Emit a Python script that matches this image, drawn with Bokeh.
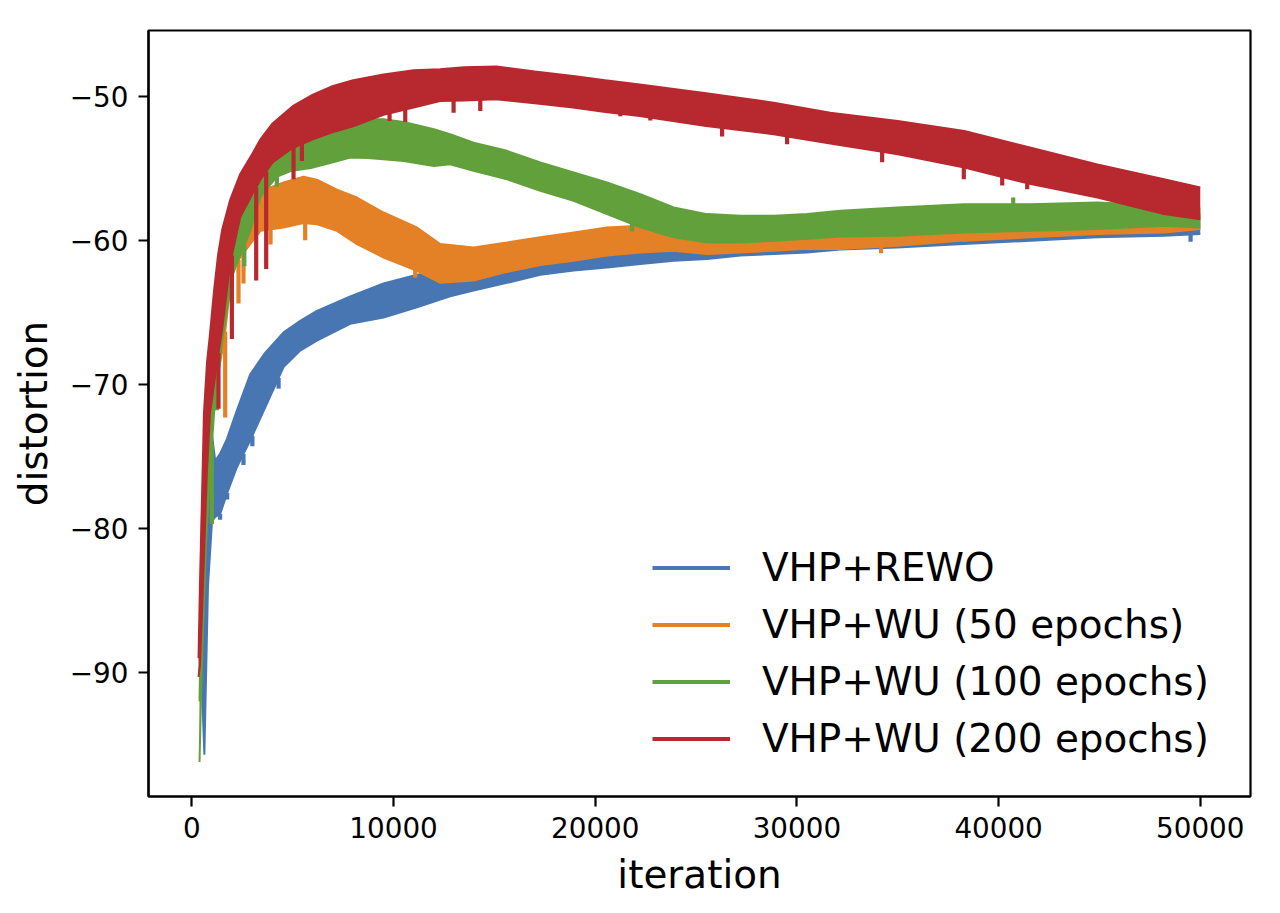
import numpy as np
from bokeh.plotting import figure
from bokeh.models import Range1d, FixedTicker, Legend, LegendItem
from bokeh.embed import file_html
from bokeh.resources import INLINE

# ---------------- data ----------------
series_names = ["VHP+REWO", "VHP+WU (50 epochs)", "VHP+WU (100 epochs)", "VHP+WU (200 epochs)"]
series_colors = ["#4876b2", "#e48026", "#62a03b", "#b7292f"]

# Each series is a very noisy curve: band = lower / upper envelope of the noise,
# plus a few isolated downward spikes.
rewo_x = [400, 500, 620, 800, 1000, 1156, 1404, 1736, 2232, 2892, 3640, 4546, 5372, 6200,
          7852, 9505, 11160, 12812, 13970, 15625, 17277, 18930, 20585, 22237, 23890, 25546,
          27197, 28850, 30505, 32157, 34970, 38275, 41582, 44891, 48194, 50000]
rewo_lo = [-89, -91, -95.7, -84, -79.5, -79.2, -79.0, -77.6, -75.75, -73.9, -71.6, -68.8, -67.66, -66.97,
           -65.8, -65.36, -64.66, -63.9, -63.5, -62.96, -62.4, -62.1, -61.9, -61.65, -61.42, -61.3,
           -61.07, -60.96, -60.85, -60.65, -60.5, -60.27, -60.03, -59.8, -59.7, -59.57]
rewo_hi = [-87, -84, -80, -74, -73.5, -75.3, -74.8, -73.8, -71.8, -69.3, -67.8, -66.4, -65.6, -64.9,
           -63.9, -63.0, -62.4, -62.1, -61.9, -61.4, -60.9, -60.6, -60.4, -60.2, -60.0, -59.8,
           -59.6, -59.5, -59.4, -59.2, -59.1, -58.9, -58.7, -58.5, -58.4, -58.3]
rewo_spike_x = [1400, 1750, 2560, 3000, 4300, 49519]
rewo_spike_y = [-79.4, -78.0, -75.6, -74.3, -70.3, -60.1]

wu50_x = [400, 500, 700, 900, 1200, 1600, 2000, 2500, 3400, 4546, 5536, 6200, 7192, 8185, 9505,
          11160, 12316, 13970, 15625, 17277, 18930, 20585, 22237, 23890, 25546, 27197, 28850,
          30505, 32157, 34970, 38275, 41582, 44891, 48194, 50000]
wu50_lo = [-90, -86, -79, -74, -70, -67, -62, -61, -59.35, -59.12, -58.8, -58.9, -59.35, -60.27, -61.2,
           -62.12, -62.96, -62.8, -62.2, -61.73, -61.42, -61.07, -60.85, -60.73, -60.96, -60.85, -60.73,
           -60.6, -60.61, -60.39, -60.03, -59.8, -59.57, -59.46, -59.23]
wu50_hi = [-86, -79, -71, -67, -63, -60, -58, -57.3, -56.6, -56.0, -55.6, -55.8, -56.5, -57.04, -58.08,
           -59.12, -60.27, -60.5, -60.16, -59.8, -59.46, -59.12, -59.0, -59.3, -59.4, -59.3, -59.2,
           -59.1, -59.0, -58.9, -58.7, -58.5, -58.3, -58.2, -58.1]
wu50_spike_x = [1652, 2313, 2560, 3900, 5620, 11076, 34172]
wu50_spike_y = [-72.3, -64.4, -63.0, -60.3, -60.0, -62.6, -60.9]

wu100_x = [380, 450, 550, 700, 900, 1100, 1500, 2000, 2400, 2900, 3400, 4200, 4900, 5900, 7000,
           7850, 8700, 9500, 10500, 12000, 12800, 13970, 15625, 17277, 18930, 20585, 22237, 23890,
           25546, 27197, 28850, 30505, 32157, 34970, 38275, 41582, 44891, 48194, 50000]
wu100_lo = [-96.2, -92, -87, -81, -76, -72, -67, -62.5, -61.0, -59.35, -57.0, -55.6, -55.2, -55.0, -54.6,
            -54.27, -54.3, -54.38, -54.5, -54.85, -54.73, -55.19, -55.77, -56.57, -57.26, -58.19, -59.1, -59.8,
            -60.16, -60.16, -60.03, -59.9, -59.75, -59.7, -59.46, -59.35, -59.23, -59.0, -59.12]
wu100_hi = [-92, -86, -79, -72, -68, -65, -60.5, -57.5, -56, -55, -54.5, -53.5, -53.0, -52.5, -52.1,
            -51.8, -51.6, -51.6, -51.8, -52.3, -52.65, -53.23, -53.8, -54.61, -55.3, -56.0, -56.8, -57.73,
            -58.19, -58.3, -58.3, -58.19, -57.95, -57.73, -57.5, -57.5, -57.39, -57.6, -57.8]
wu100_spike_x = [992, 1240, 2600, 4216, 21826, 40724]
wu100_spike_y = [-79.7, -71.8, -61.8, -56.3, -59.4, -57.04]

wu200_x = [330, 400, 500, 600, 750, 900, 1100, 1300, 1500, 1900, 2400, 3000, 3400, 4000, 5000, 6000,
           7000, 8000, 9500, 11000, 12300, 13500, 15100, 17000, 18900, 20500, 22200, 25500, 28850,
           31650, 35000, 38300, 41600, 44900, 48200, 50000]
wu200_lo = [-90.3, -89.5, -86, -82, -76, -72, -70, -68, -66.2, -61.6, -58.4, -56.8, -55.8, -54.6, -53.6, -53.0,
            -52.5, -52.1, -51.3, -50.8, -50.34, -50.3, -50.22, -50.5, -50.8, -51.1, -51.38, -52.07, -52.65,
            -53.3, -54.03, -54.96, -56.11, -57.04, -58.19, -58.54]
wu200_hi = [-89, -84, -78, -72, -68.5, -66.5, -63.5, -61, -59.3, -57.2, -55.4, -54.0, -53.0, -51.9, -50.7, -49.9,
            -49.3, -48.9, -48.5, -48.2, -48.14, -48.0, -47.95, -48.3, -48.6, -48.9, -49.2, -49.8, -50.46,
            -51.15, -51.73, -52.42, -53.58, -54.74, -55.77, -56.35]
wu200_spike_x = [1320, 1984, 3190, 3685, 5040, 5456, 9802, 10580, 12977, 14300, 21245, 22733, 26290,
                 29514, 34226, 38275, 40179, 41419]
wu200_spike_y = [-71.7, -66.85, -62.8, -62.0, -55.77, -54.5, -51.73, -51.8, -51.15, -51.03, -51.4, -51.7,
                 -52.8, -53.35, -54.6, -55.77, -56.2, -56.46]

x_ticks = [0, 10000, 20000, 30000, 40000, 50000]
x_tick_labels = ["0", "10000", "20000", "30000", "40000", "50000"]
y_ticks = [-90, -80, -70, -60, -50]
y_tick_labels = ["\u221290", "\u221280", "\u221270", "\u221260", "\u221250"]
x_label = "iteration"
y_label = "distortion"

# ---------------- figure ----------------
FONT = "DejaVu Sans"
p = figure(frame_width=1102, frame_height=766,
           min_border_left=148, min_border_right=22, min_border_top=30, min_border_bottom=109,
           x_range=Range1d(-2150, 52490), y_range=Range1d(-98.6, -45.45),
           output_backend="svg", toolbar_location=None, title=None,
           background_fill_color="white", border_fill_color="white")
p.grid.visible = False
p.outline_line_color = "black"
p.outline_line_width = 2.2

for ax in (p.xaxis[0], p.yaxis[0]):
    ax.major_tick_out = 10
    ax.major_tick_in = 0
    ax.minor_tick_out = 0
    ax.minor_tick_in = 0
    ax.major_tick_line_width = 2.2
    ax.major_tick_line_color = "black"
    ax.axis_line_width = 2.2
    ax.axis_line_color = "black"
    ax.major_label_text_font = FONT
    ax.major_label_text_font_size = "27.8px"
    ax.major_label_text_color = "black"
    ax.major_label_standoff = 10
    ax.axis_label_text_font = FONT
    ax.axis_label_text_font_size = "38.9px"
    ax.axis_label_text_font_style = "normal"
    ax.axis_label_text_color = "black"
    ax.axis_label_standoff = 11

p.xaxis.ticker = FixedTicker(ticks=x_ticks)
p.xaxis.major_label_overrides = dict(zip(x_ticks, x_tick_labels))
p.yaxis.ticker = FixedTicker(ticks=y_ticks)
p.yaxis.major_label_overrides = dict(zip(y_ticks, y_tick_labels))
p.xaxis.axis_label = x_label
p.yaxis.axis_label = y_label

all_series = [
    (rewo_x, rewo_lo, rewo_hi, rewo_spike_x, rewo_spike_y),
    (wu50_x, wu50_lo, wu50_hi, wu50_spike_x, wu50_spike_y),
    (wu100_x, wu100_lo, wu100_hi, wu100_spike_x, wu100_spike_y),
    (wu200_x, wu200_lo, wu200_hi, wu200_spike_x, wu200_spike_y),
]

legend_items = []
for name, color, (sx, slo, shi, kx, ky) in zip(series_names, series_colors, all_series):
    p.varea(x=sx, y1=slo, y2=shi, fill_color=color, fill_alpha=1.0)
    p.line(x=sx, y=shi, line_color=color, line_width=2)
    p.line(x=sx, y=slo, line_color=color, line_width=2)
    base = np.interp(kx, sx, slo)
    r = p.segment(x0=kx, y0=base, x1=kx, y1=ky, line_color=color, line_width=4.2)
    legend_items.append(LegendItem(label=name, renderers=[r]))

legend = Legend(items=legend_items, location=(504, 35), padding=0, margin=0,
                spacing=12, glyph_width=78, glyph_height=45, label_height=45,
                label_standoff=32, label_text_font=FONT, label_text_font_size="38.9px",
                label_text_color="black", border_line_alpha=0, background_fill_alpha=0)
p.add_layout(legend)

open("out.html", "w").write(file_html(p, INLINE))
